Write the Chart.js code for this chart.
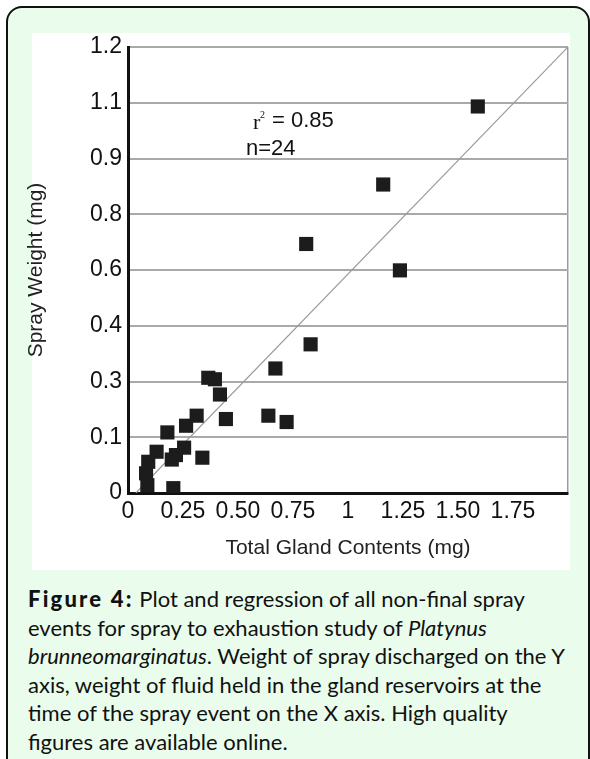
<!DOCTYPE html>
<html>
<head>
<meta charset="utf-8">
<script src="https://cdn.jsdelivr.net/npm/chart.js@4.4.1/dist/chart.umd.min.js"></script>
<style>
  body { margin: 0; background: #fff; width: 590px; height: 759px; overflow: hidden; position: relative; }
  #panel { position: absolute; left: 6px; top: 6px; width: 580px; height: 800px; border: 2px solid #111; border-radius: 16px; background: #eafdec; }
  #white { position: absolute; left: 32px; top: 33px; width: 538px; height: 537px; background: #fff; }
  #chart { position: absolute; left: 0; top: 0; }
  #caption { position: absolute; left: 28px; top: 585px; width: 562px; font-family: Lato, "Open Sans", sans-serif; font-size: 22px; line-height: 28.6px; color: #111; white-space: nowrap; }
  #caption b { font-weight: 900; letter-spacing: 2.2px; }
</style>
</head>
<body>
<div id="panel"></div>
<div id="white"></div>
<canvas id="chart" width="590" height="580"></canvas>
<div id="caption">
  <b>Figure 4:</b> Plot and regression of all non-final spray<br>
  events for spray to exhaustion study of <i>Platynus</i><br>
  <i>brunneomarginatus</i>. Weight of spray discharged on the Y<br>
  axis, weight of fluid held in the gland reservoirs at the<br>
  time of the spray event on the X axis. High quality<br>
  figures are available online.
</div>
<script>
// gland contents (x) and spray weight (y)
const glandContents = [1.59, 1.16, 0.81, 1.236, 0.83, 0.67, 0.365, 0.395, 0.418, 0.445, 0.638, 0.721,
  0.312, 0.264, 0.179, 0.255, 0.218, 0.199, 0.338, 0.130, 0.092, 0.082, 0.088, 0.206];
const sprayWeight = [1.04, 0.83, 0.67, 0.599, 0.40, 0.335, 0.31, 0.306, 0.265, 0.199, 0.208, 0.191,
  0.208, 0.181, 0.163, 0.122, 0.102, 0.090, 0.095, 0.111, 0.084, 0.053, 0.021, 0.013];

// regression line end points
const fitX = [0.036, 2.0];
const fitY = [0, 1.2];

// tick labels as printed on the original axes
const xTickLabels = ['0', '0.25', '0.50', '0.75', '1', '1.25', '1.50', '1.75', ''];
const yTickLabels = ['0', '0.1', '0.3', '0.4', '0.6', '0.8', '0.9', '1.1', '1.2'];

const sans = "'Liberation Sans', Arial, sans-serif";

const statsText = {
  id: 'statsText',
  afterDatasetsDraw(chart) {
    const {ctx, scales: {x, y}} = chart;
    const rx = x.getPixelForValue(0.568);
    const ry = y.getPixelForValue(1.0);
    ctx.save();
    ctx.fillStyle = '#111';
    ctx.textBaseline = 'middle';
    ctx.textAlign = 'left';
    ctx.font = "22px 'Liberation Serif', serif";
    ctx.fillText('r', rx, ry + 2);
    ctx.font = "10px 'Liberation Serif', serif";
    ctx.fillText('2', rx + 7, ry - 6);
    ctx.font = '22px ' + sans;
    ctx.fillText('= 0.85', rx + 19, ry);
    ctx.fillText('n=24', x.getPixelForValue(0.536), y.getPixelForValue(0.926));
    ctx.restore();
  }
};

new Chart(document.getElementById('chart'), {
  type: 'scatter',
  data: {
    datasets: [
      {
        data: glandContents.map((v, i) => ({x: v, y: sprayWeight[i]})),
        pointStyle: 'rect',
        pointRadius: 10,
        pointBackgroundColor: '#1c1c1c',
        pointBorderColor: '#1c1c1c',
        pointBorderWidth: 0
      },
      {
        type: 'line',
        data: fitX.map((v, i) => ({x: v, y: fitY[i]})),
        borderColor: '#9a9a9a',
        borderWidth: 1.2,
        pointRadius: 0,
        fill: false
      }
    ]
  },
  options: {
    responsive: false,
    animation: false,
    layout: { padding: { left: 0, top: 47, right: 22, bottom: 0 } },
    plugins: { legend: { display: false }, tooltip: { enabled: false } },
    scales: {
      x: {
        type: 'linear',
        min: 0,
        max: 2,
        afterFit: (s) => { s.height = 87; },
        ticks: {
          stepSize: 0.25,
          padding: 5,
          color: '#111',
          font: { family: sans, size: 23 },
          maxRotation: 0,
          autoSkip: false,
          callback: (v) => xTickLabels[Math.round(v / 0.25)]
        },
        grid: {
          drawTicks: false,
          color: (c) => (c.tick && c.tick.value === 2 ? '#9a9a9a' : 'rgba(0,0,0,0)'),
          lineWidth: 1.5
        },
        border: { color: '#111', width: 3 },
        title: {
          display: true,
          text: 'Total Gland Contents (mg)',
          color: '#222',
          font: { family: sans, size: 21 },
          padding: { bottom: 19 }
        }
      },
      y: {
        min: 0,
        max: 1.2,
        afterFit: (s) => { s.width = 128; },
        ticks: {
          stepSize: 0.15,
          padding: 6,
          color: '#111',
          font: { family: sans, size: 23 },
          callback: (v) => yTickLabels[Math.round(v / 0.15)]
        },
        grid: { drawTicks: false, color: '#a9a9a9', lineWidth: 2 },
        border: { color: '#111', width: 3 },
        title: {
          display: true,
          text: 'Spray Weight (mg)',
          color: '#222',
          font: { family: sans, size: 21 },
          padding: { top: 24 }
        }
      }
    }
  },
  plugins: [statsText]
});
</script>
</body>
</html>
